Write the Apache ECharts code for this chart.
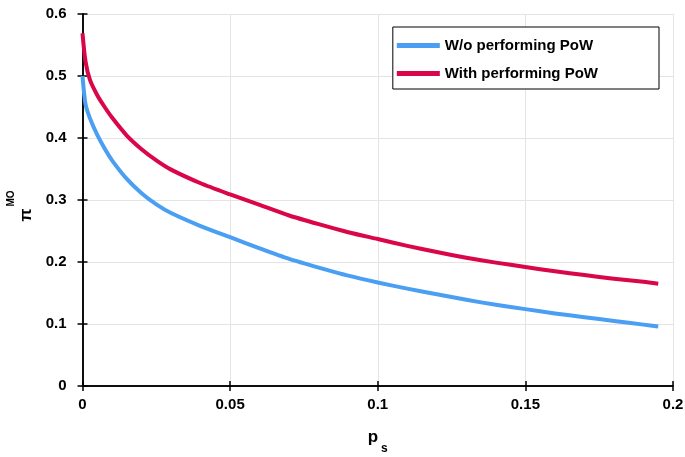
<!DOCTYPE html>
<html>
<head>
<meta charset="utf-8">
<script src="https://cdn.jsdelivr.net/npm/echarts@6/dist/echarts.min.js"></script>
<style>
html,body{margin:0;padding:0;background:#fff;}
#chart{width:685px;height:457px;}
</style>
</head>
<body>
<div id="chart"></div>
<script>
var ps = [0, 0.001, 0.0025, 0.005, 0.0075, 0.01, 0.015, 0.02, 0.025, 0.03, 0.04, 0.05, 0.06, 0.07, 0.08, 0.09, 0.1, 0.11, 0.12, 0.13, 0.14, 0.15, 0.16, 0.17, 0.18, 0.19, 0.195];
var woPoW = [0.5, 0.455, 0.432, 0.405, 0.383, 0.364, 0.334, 0.311, 0.293, 0.279, 0.258, 0.240, 0.222, 0.205, 0.191, 0.178, 0.167, 0.157, 0.148, 0.139, 0.131, 0.124, 0.117, 0.111, 0.105, 0.099, 0.096];
var withPoW = [0.569, 0.524, 0.494, 0.469, 0.45, 0.433, 0.404, 0.382, 0.364, 0.349, 0.327, 0.309, 0.292, 0.275, 0.261, 0.248, 0.237, 0.226, 0.216, 0.207, 0.199, 0.192, 0.185, 0.179, 0.173, 0.168, 0.165];
var seriesNames = ['W/o performing PoW', 'With performing PoW'];
var xTicks = [0, 0.05, 0.1, 0.15, 0.2];
var yTicks = [0, 0.1, 0.2, 0.3, 0.4, 0.5, 0.6];

function pairs(xs, ys) { return xs.map(function (x, i) { return [x, ys[i]]; }); }

var FONT = '"Liberation Sans", Arial, sans-serif';
var chart = echarts.init(document.getElementById('chart'), null, {renderer: 'canvas'});

function baseAxis(extra) {
  return Object.assign({
    type: 'value',
    axisLine: {show: true, lineStyle: {color: '#000', width: 1.5}},
    axisTick: {show: true, inside: true, length: 5, lineStyle: {color: '#000', width: 1.5}},
    splitLine: {show: false},
    axisLabel: {show: false}
  }, extra);
}

chart.setOption({
  animation: false,
  backgroundColor: '#fff',
  grid: {left: 82.5, right: 12, top: 14, bottom: 71, containLabel: false, outerBoundsMode: 'none'},
  legend: {
    orient: 'vertical',
    right: 26,
    top: 27,
    backgroundColor: '#fff',
    borderColor: '#000',
    borderWidth: 1,
    borderRadius: 0,
    padding: [11, 61, 8, 4],
    itemGap: 13,
    itemWidth: 43,
    itemHeight: 5,
    icon: 'rect',
    data: seriesNames,
    textStyle: {fontFamily: FONT, fontWeight: 'bold', fontSize: 15, color: '#000'}
  },
  xAxis: [
    baseAxis({
      min: xTicks[0], max: xTicks[xTicks.length - 1], interval: 0.05,
      position: 'bottom',
      axisLabel: {show: true, margin: 11, fontFamily: FONT, fontWeight: 'bold', fontSize: 15, color: '#000'},
      splitLine: {show: true, lineStyle: {color: '#e4e4e4', width: 1}},
      name: '{p|p}{s|s}',
      nameLocation: 'middle',
      nameGap: 43,
      nameTextStyle: {
        rich: {
          p: {fontFamily: FONT, fontWeight: 'bold', fontSize: 17, color: '#000', lineHeight: 26, verticalAlign: 'top'},
          s: {fontFamily: FONT, fontWeight: 'bold', fontSize: 12, color: '#000', lineHeight: 26, verticalAlign: 'bottom', padding: [0, 0, 0, 3]}
        }
      }
    }),
    baseAxis({min: xTicks[0], max: xTicks[xTicks.length - 1], interval: 0.05, position: 'top'})
  ],
  yAxis: [
    baseAxis({
      min: yTicks[0], max: yTicks[yTicks.length - 1], interval: 0.1,
      position: 'left',
      axisLabel: {show: true, margin: 16, fontFamily: FONT, fontWeight: 'bold', fontSize: 15, color: '#000'},
      splitLine: {show: true, lineStyle: {color: '#e4e4e4', width: 1}},
      name: '{pi|π}{sup|MO}',
      nameLocation: 'middle',
      nameGap: 48,
      nameRotate: 90,
      nameTextStyle: {
        rich: {
          pi: {fontFamily: FONT, fontWeight: 'bold', fontSize: 17, color: '#000', lineHeight: 28, verticalAlign: 'bottom'},
          sup: {fontFamily: FONT, fontWeight: 'bold', fontSize: 10, color: '#000', lineHeight: 28, verticalAlign: 'top', padding: [0, 12, 0, 2]}
        }
      }
    }),
    baseAxis({min: yTicks[0], max: yTicks[yTicks.length - 1], interval: 0.1, position: 'right'})
  ],
  series: [
    {
      name: seriesNames[0], type: 'line', xAxisIndex: 0, yAxisIndex: 0,
      data: pairs(ps, woPoW), showSymbol: false, smooth: 0.25,
      lineStyle: {color: '#4a9ff3', width: 4, join: 'round', cap: 'butt'}, itemStyle: {color: '#4a9ff3'}
    },
    {
      name: seriesNames[1], type: 'line', xAxisIndex: 0, yAxisIndex: 0,
      data: pairs(ps, withPoW), showSymbol: false, smooth: 0.25,
      lineStyle: {color: '#d9064a', width: 4, join: 'round', cap: 'butt'}, itemStyle: {color: '#d9064a'}
    }
  ]
});
</script>
</body>
</html>
